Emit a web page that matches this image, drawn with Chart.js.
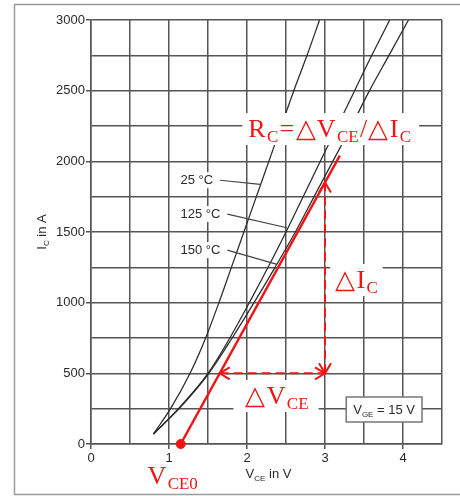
<!DOCTYPE html>
<html><head><meta charset="utf-8">
<script src="https://cdn.jsdelivr.net/npm/chart.js@4.4.1/dist/chart.umd.min.js"></script>
<style>html,body{margin:0;padding:0;background:#fff;}canvas{display:block;}</style>
</head><body>
<canvas id="c" width="460" height="496"></canvas>
<script>
// ---- data ----
const icPoints = [71, 250, 500, 750, 1000, 1250, 1500, 1750, 2000, 2250, 2500, 2750, 3000];
const vce25  = [0.80, 1.02, 1.27, 1.47, 1.64, 1.80, 1.96, 2.12, 2.28, 2.44, 2.60, 2.77, 2.93];
const vce125 = [0.80, 1.12, 1.50, 1.78, 2.03, 2.27, 2.50, 2.72, 2.94, 3.16, 3.38, 3.60, 3.83];
const vce150 = [0.80, 1.13, 1.51, 1.81, 2.09, 2.36, 2.62, 2.86, 3.10, 3.34, 3.57, 3.82, 4.07];
const tempLabels = ['25 °C', '125 °C', '150 °C'];
const xTickLabels = [0, 1, 2, 3, 4];
const yTickLabels = [0, 500, 1000, 1500, 2000, 2500, 3000];
const redLineV = [1.15, 3.19];
const redLineI = [0, 2040];
const vce0 = 1.15;
const deltaV = [1.65, 3.0];   // horizontal arrow span at I = deltaVAt
const deltaVAt = 500;
const deltaI = [500, 1850];   // vertical arrow span at V = deltaIAt
const deltaIAt = 3.0;
const vgeText = '15 V';

// ---- styles / annotation placement ----
const RED = '#f01414';
const GRID = '#555555';
const TXT = '#2a2a2a';
const SANS = '"Liberation Sans", Arial, sans-serif';
const SERIF = '"Liberation Serif", "Times New Roman", serif';
const tempLabelPos = [
  {x: 1.147, y: 1866, lx: 2.17, ly: 1837},
  {x: 1.147, y: 1627, lx: 2.51, ly: 1530},
  {x: 1.147, y: 1372, lx: 2.385, ly: 1271}
];

const pts = (vs, is) => vs.map((v, k) => ({x: v, y: is[k]}));

function richWidth(ctx, parts, size, subSize, fam, gap) {
  let w = 0;
  parts.forEach(([t, sub], k) => {
    ctx.font = (sub ? subSize : size) + 'px ' + fam;
    w += ctx.measureText(t).width + (k ? gap : 0);
  });
  return w;
}
function drawRich(ctx, x, y, parts, size, subSize, fam, color, gap, subDrop) {
  ctx.fillStyle = color;
  ctx.textBaseline = 'alphabetic';
  ctx.textAlign = 'left';
  let cx = x;
  parts.forEach(([t, sub], k) => {
    if (k) cx += gap;
    ctx.font = (sub ? subSize : size) + 'px ' + fam;
    ctx.fillText(t, cx, sub ? y + subDrop : y);
    cx += ctx.measureText(t).width;
  });
  return cx - x;
}
function chevron(ctx, x, y, dx, dy, len, half) {
  const nx = -dy, ny = dx;
  ctx.beginPath();
  ctx.moveTo(x - dx * len + nx * half, y - dy * len + ny * half);
  ctx.lineTo(x, y);
  ctx.lineTo(x - dx * len - nx * half, y - dy * len - ny * half);
  ctx.stroke();
}

const overlay = {
  id: 'overlay',
  beforeDraw(chart) {
    const c = chart.ctx;
    c.save();
    c.fillStyle = '#fff';
    c.fillRect(0, 0, chart.width, chart.height);
    c.strokeStyle = '#9a9a9a';
    c.lineWidth = 1.5;
    c.strokeRect(14.5, 4.5, 470, 490);
    c.restore();
  },
  afterDatasetsDraw(chart) {
    const c = chart.ctx, xs = chart.scales.x, ys = chart.scales.y, ca = chart.chartArea;
    const px = v => xs.getPixelForValue(v), py = i => ys.getPixelForValue(i);
    c.save();
    // arrowheads
    c.strokeStyle = RED; c.lineWidth = 2; c.setLineDash([]);
    chevron(c, px(deltaV[0]), py(deltaVAt), -1, 0, 10, 6);
    chevron(c, px(deltaV[1]), py(deltaVAt), 1, 0, 10, 6);
    chevron(c, px(deltaIAt), py(deltaI[0]), 0, 1, 10, 6);
    chevron(c, px(deltaIAt), py(deltaI[1]), 0, -1, 10, 6);

    // temperature labels with leader lines
    c.font = '13px ' + SANS;
    tempLabels.forEach((t, k) => {
      const p = tempLabelPos[k];
      const x = px(p.x), y = py(p.y), w = c.measureText(t).width;
      c.fillStyle = '#fff';
      c.fillRect(x - 2, y - 8, w + 4, 16);
      c.fillStyle = TXT;
      c.textBaseline = 'middle'; c.textAlign = 'left';
      c.fillText(t, x, y);
      c.strokeStyle = '#444'; c.lineWidth = 1.2;
      c.beginPath(); c.moveTo(x + w + 7, y); c.lineTo(px(p.lx), py(p.ly)); c.stroke();
    });

    // red formula texts
    const big = 26, small = 17, gap = 1.3, drop = 5;
    const red = (parts, v, i, padL, padR) => {
      const x = px(v), y = py(i);
      const w = richWidth(c, parts, big, small, SERIF, gap);
      c.fillStyle = '#fff';
      c.fillRect(x - padL, y - 24, w + padL + padR, 32);
      drawRich(c, x, y, parts, big, small, SERIF, RED, gap, drop);
    };
    red([['R',0],['C',1],['=',0],['△',0],['V',0],['CE',1],['/',0],['△',0],['I',0],['C',1]], 2.017, 2172, 6, 8);
    red([['△',0],['I',0],['C',1]], 3.13, 1104, 5, 5);
    red([['△',0],['V',0],['CE',1]], 1.98, 283, 12, 10);
    const v0parts = [['V',0],['CE0',1]];
    const w0 = richWidth(c, v0parts, big, small, SERIF, gap);
    drawRich(c, px(vce0) - 8 - w0 / 2, py(0) + 40, v0parts, big, small, SERIF, RED, gap, drop);

    // V_GE legend box
    const lparts = [['V',0],['GE',1],[' = ' + vgeText,0]];
    const lw = richWidth(c, lparts, 13, 8, SANS, 0);
    const bx1 = ca.right - 20, by2 = ca.bottom - 22, bw = lw + 14, bh = 25;
    c.fillStyle = '#fff'; c.fillRect(bx1 - bw, by2 - bh, bw, bh);
    c.strokeStyle = '#777'; c.lineWidth = 1.5; c.strokeRect(bx1 - bw, by2 - bh, bw, bh);
    drawRich(c, bx1 - bw + 7, by2 - 8, lparts, 13, 8, SANS, TXT, 0, 3);

    // axis titles
    const xt = [['V',0],['CE',1],[' in V',0]];
    const xtw = richWidth(c, xt, 13, 8, SANS, 0);
    drawRich(c, (ca.left + ca.right) / 2 + 2 - xtw / 2, ca.bottom + 34, xt, 13, 8, SANS, TXT, 0, 3);
    const yt = [['I',0],['C',1],[' in A',0]];
    const ytw = richWidth(c, yt, 13, 8, SANS, 0);
    c.translate(46, 232);
    c.rotate(-Math.PI / 2);
    drawRich(c, -ytw / 2, 0, yt, 13, 8, SANS, TXT, 0, 3);
    c.restore();
  }
};

const curveStyle = {borderColor: '#2a2a2a', borderWidth: 1.25, pointRadius: 0, showLine: true, cubicInterpolationMode: 'monotone'};

new Chart(document.getElementById('c'), {
  type: 'scatter',
  data: {
    datasets: [
      {data: [{x: vce0, y: 0}], pointRadius: 4.5, pointBackgroundColor: RED, pointBorderColor: RED, showLine: false, clip: false},
      {data: pts(redLineV, redLineI), borderColor: RED, borderWidth: 2.4, pointRadius: 0, showLine: true},
      {data: [{x: deltaV[0], y: deltaVAt}, {x: deltaV[1], y: deltaVAt}], borderColor: RED, borderWidth: 2, borderDash: [9, 5], pointRadius: 0, showLine: true},
      {data: [{x: deltaIAt, y: deltaI[0]}, {x: deltaIAt, y: deltaI[1]}], borderColor: RED, borderWidth: 2, borderDash: [9, 5], pointRadius: 0, showLine: true},
      Object.assign({label: tempLabels[0], data: pts(vce25, icPoints)}, curveStyle),
      Object.assign({label: tempLabels[1], data: pts(vce125, icPoints)}, curveStyle),
      Object.assign({label: tempLabels[2], data: pts(vce150, icPoints)}, curveStyle)
    ]
  },
  options: {
    responsive: false,
    animation: false,
    devicePixelRatio: 1,
    layout: {padding: {left: 0, right: 18, top: 20, bottom: 0}},
    plugins: {legend: {display: false}, tooltip: {enabled: false}},
    scales: {
      x: {
        type: 'linear', min: 0, max: 4.5,
        afterFit: s => { s.height = 52; },
        ticks: {stepSize: 0.5, autoSkip: false, maxRotation: 0, padding: 2,
          color: TXT, font: {family: SANS, size: 13},
          callback: v => xTickLabels.includes(v) ? String(v) : ''},
        grid: {color: GRID, lineWidth: 1.5, tickLength: 5,
          tickColor: ctx => (ctx.tick && xTickLabels.includes(ctx.tick.value)) ? GRID : 'rgba(0,0,0,0)'},
        border: {color: GRID, width: 1.5}
      },
      y: {
        type: 'linear', min: 0, max: 3000,
        afterFit: s => { s.width = 91; },
        ticks: {stepSize: 250, autoSkip: false, padding: 1,
          color: TXT, font: {family: SANS, size: 13},
          callback: v => yTickLabels.includes(v) ? String(v) : ''},
        grid: {color: GRID, lineWidth: 1.5, tickLength: 5,
          tickColor: ctx => (ctx.tick && yTickLabels.includes(ctx.tick.value)) ? GRID : 'rgba(0,0,0,0)'},
        border: {color: GRID, width: 1.5}
      }
    }
  },
  plugins: [overlay]
});
</script>
</body></html>
